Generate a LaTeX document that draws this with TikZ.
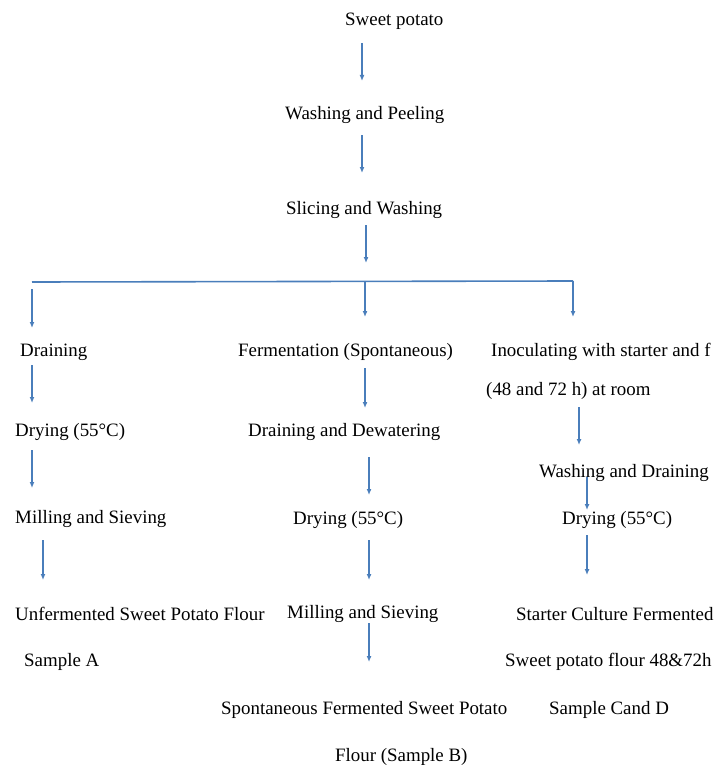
\documentclass[tikz,border=0pt]{standalone}
\usepackage{fontspec}
\setmainfont{Liberation Serif}
\usetikzlibrary{arrows.meta}
\definecolor{lineblue}{RGB}{74,126,187}
\begin{document}
\begin{tikzpicture}[x=1pt,y=-1pt,
  lbl/.style={anchor=west,inner sep=0pt,yshift=-2pt,font=\fontsize{18.9}{20}\selectfont},
  arr/.style={draw=lineblue,line width=1.3pt,-{Latex[length=6pt,width=5pt]}},
  bar/.style={draw=lineblue,line width=1.6pt}]
\useasboundingbox (0,0) rectangle (715,765);
% texts
\node[lbl] (sweet) at (345,19) {Sweet potato};
\node[lbl] (wp) at (285,113) {Washing and Peeling};
\node[lbl] (sw) at (286,208) {Slicing and Washing};
\node[lbl] (drain) at (20,350) {Draining};
\node[lbl] (ferm) at (238,350) {Fermentation (Spontaneous)};
\node[lbl] (inoc) at (491,350) {Inoculating with starter and f};
\node[lbl] (room) at (486,389) {(48 and 72 h) at room};
\node[lbl] (dryL) at (15,430) {Drying (55°C)};
\node[lbl] (dd) at (248,430) {Draining and Dewatering};
\node[lbl] (wd) at (539,471) {Washing and Draining};
\node[lbl] (millL) at (15,517) {Milling and Sieving};
\node[lbl] (dryM) at (293,518) {Drying (55°C)};
\node[lbl] (dryR) at (562,518) {Drying (55°C)};
\node[lbl] (unf) at (15,612) {Unfermented Sweet Potato Flour};
\node[lbl] (millM) at (287,612) {Milling and Sieving};
\node[lbl] (starter) at (516,612) {Starter Culture Fermented};
\node[lbl] (sampA) at (24,660) {Sample A};
\node[lbl] (spflour) at (505,660) {Sweet potato flour 48\&72h};
\node[lbl] (spont) at (221,708) {Spontaneous Fermented Sweet Potato};
\node[lbl] (sampCD) at (549,708) {Sample Cand D};
\node[lbl] (flourB) at (335,755) {Flour (Sample B)};
% arrow end points
\coordinate (a1s) at (362,43);  \coordinate (a1e) at (362,81);
\coordinate (a2s) at (362,135); \coordinate (a2e) at (362,173);
\coordinate (a3s) at (366,225); \coordinate (a3e) at (366,263);
\coordinate (bl) at (32,282);   \coordinate (bm) at (365,281); \coordinate (br) at (573,281);
\coordinate (l0s) at (32,289);  \coordinate (l0e) at (32,328);
\coordinate (m0e) at (365,317); \coordinate (r0e) at (573,317);
\coordinate (l1s) at (32,365);  \coordinate (l1e) at (32,403);
\coordinate (l2s) at (32,450);  \coordinate (l2e) at (32,488);
\coordinate (l3s) at (43,540);  \coordinate (l3e) at (43,580);
\coordinate (m1s) at (365,368); \coordinate (m1e) at (365,408);
\coordinate (m2s) at (369,457); \coordinate (m2e) at (369,495);
\coordinate (m3s) at (369,540); \coordinate (m3e) at (369,580);
\coordinate (m4s) at (369,623); \coordinate (m4e) at (369,662);
\coordinate (r1s) at (579,407); \coordinate (r1e) at (579,445);
\coordinate (r2s) at (587,477); \coordinate (r2e) at (587,510);
\coordinate (r3s) at (587,535); \coordinate (r3e) at (587,575);
% connectors
\draw[arr] (a1s) -- (a1e);
\draw[arr] (a2s) -- (a2e);
\draw[arr] (a3s) -- (a3e);
\draw[bar] (bl) -- (br);
\draw[arr] (br) -- (r0e);
\draw[arr] (bm) -- (m0e);
\draw[arr] (l0s) -- (l0e);
\draw[arr] (l1s) -- (l1e);
\draw[arr] (l2s) -- (l2e);
\draw[arr] (l3s) -- (l3e);
\draw[arr] (m1s) -- (m1e);
\draw[arr] (m2s) -- (m2e);
\draw[arr] (m3s) -- (m3e);
\draw[arr] (m4s) -- (m4e);
\draw[arr] (r1s) -- (r1e);
\draw[arr] (r2s) -- (r2e);
\draw[arr] (r3s) -- (r3e);
\end{tikzpicture}
\end{document}
